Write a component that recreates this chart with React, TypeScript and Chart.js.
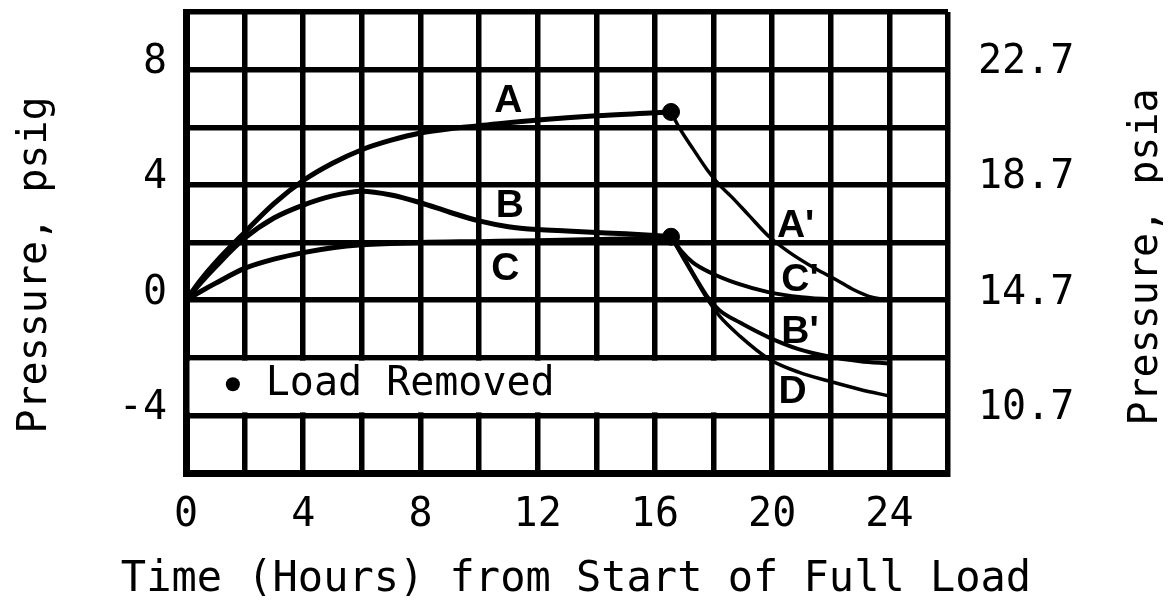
import React, { useEffect, useRef } from "react";
import { Chart, registerables } from "chart.js";

Chart.register(...registerables);

// ---------- data (hours, psig) ----------
const timeA = [0, 0.5, 1, 2, 3, 4, 5, 6, 7, 8, 9, 10, 12, 14, 16, 16.55];
const pressA = [0, 0.7, 1.3, 2.35, 3.35, 4.15, 4.75, 5.22, 5.55, 5.8, 5.95, 6.05, 6.25, 6.4, 6.5, 6.53];

const timeB = [0, 0.5, 1, 2, 3, 4, 5, 6, 7, 8, 9, 10, 11, 12, 13, 14, 15, 16, 16.55];
const pressB = [0, 0.6, 1.15, 2.15, 2.85, 3.3, 3.62, 3.78, 3.65, 3.38, 3.05, 2.75, 2.55, 2.45, 2.4, 2.35, 2.3, 2.24, 2.2];

const timeC = [0, 0.5, 1, 2, 3, 4, 5, 6, 8, 10, 12, 14, 16, 16.55];
const pressC = [0, 0.3, 0.58, 1.1, 1.42, 1.65, 1.82, 1.92, 2.0, 2.03, 2.06, 2.1, 2.16, 2.2];

const timeA2 = [16.55, 16.85, 17.3, 17.8, 18.2, 18.6, 19.2, 19.9, 20.6, 21.5, 22.2, 22.8, 23.4, 24];
const pressA2 = [6.53, 5.95, 5.25, 4.5, 4.0, 3.6, 2.95, 2.2, 1.65, 1.08, 0.7, 0.35, 0.1, 0];

const timeC2 = [16.55, 16.9, 17.3, 17.9, 18.8, 19.9, 21, 22, 24];
const pressC2 = [2.2, 1.7, 1.3, 0.95, 0.58, 0.27, 0.1, 0.03, 0];

const timeB2 = [16.55, 17.0, 17.4, 17.8, 18.2, 18.9, 19.9, 20.9, 21.9, 23, 24];
const pressB2 = [2.2, 1.45, 0.75, 0.1, -0.35, -0.78, -1.3, -1.7, -1.95, -2.12, -2.2];

const timeD = [16.55, 17.0, 17.4, 17.8, 18.2, 18.9, 19.9, 20.9, 21.9, 23, 24];
const pressD = [2.2, 1.4, 0.7, 0.02, -0.55, -1.25, -2.05, -2.5, -2.8, -3.1, -3.33];

const removedTime = [16.55, 16.55];
const removedPress = [6.53, 2.2];

// curve labels (data coordinates)
const curveLabelText = ["A", "B", "C", "A'", "C'", "B'", "D"];
const curveLabelX = [11.0, 11.05, 10.9, 20.8, 20.95, 20.95, 20.7];
const curveLabelY = [6.9, 3.26, 1.08, 2.57, 0.69, -1.11, -3.2];

// axis texts
const xTitle = "Time (Hours) from Start of Full Load";
const yTitle = "Pressure, psig";
const y2Title = "Pressure, psia";
const legendText = "Load Removed";
const ATM = 14.7;

const MONO = '"DejaVu Sans Mono", monospace';

const toPts = (xs: number[], ys: number[]) => xs.map((x, i) => ({ x, y: ys[i] }));

const curve = (label: string, xs: number[], ys: number[], w: number) => ({
  type: "line" as const,
  label,
  data: toPts(xs, ys),
  borderColor: "#000",
  backgroundColor: "#000",
  borderWidth: w,
  pointRadius: 0,
  fill: false,
  cubicInterpolationMode: "monotone" as const,
  borderCapStyle: "round" as const,
  borderJoinStyle: "round" as const,
  xAxisID: "x",
  yAxisID: "y",
});

const decorPlugin = {
  id: "decor",
  beforeDatasetsDraw(chart: any) {
    const { ctx, scales } = chart;
    const xs = scales.x;
    const ys = scales.y;
    ctx.save();
    // blank band for the legend
    const l = xs.getPixelForValue(0) + 3.5;
    const r = xs.getPixelForValue(20) - 3;
    const t = ys.getPixelForValue(-2) + 3;
    const b = ys.getPixelForValue(-4) - 3;
    ctx.fillStyle = "#fff";
    ctx.fillRect(l, t, r - l, b - t);
    // legend
    const ly = ys.getPixelForValue(-2.92);
    ctx.fillStyle = "#000";
    ctx.beginPath();
    ctx.arc(xs.getPixelForValue(1.6), ly, 7, 0, Math.PI * 2);
    ctx.fill();
    ctx.font = `40px ${MONO}`;
    ctx.textAlign = "left";
    ctx.textBaseline = "middle";
    ctx.fillText(legendText, xs.getPixelForValue(2.72), ly);
    ctx.restore();
  },
  afterDatasetsDraw(chart: any) {
    const { ctx, scales } = chart;
    ctx.save();
    ctx.fillStyle = "#000";
    ctx.font = `bold 39px "Liberation Sans", Arial, sans-serif`;
    ctx.textAlign = "center";
    ctx.textBaseline = "middle";
    curveLabelText.forEach((t, i) => {
      ctx.fillText(t, scales.x.getPixelForValue(curveLabelX[i]), scales.y.getPixelForValue(curveLabelY[i]));
    });
    ctx.restore();
  },
  afterDraw(chart: any) {
    const { ctx } = chart;
    ctx.save();
    ctx.fillStyle = "#000";
    ctx.textAlign = "center";
    ctx.textBaseline = "middle";
    ctx.font = `42px ${MONO}`;
    ctx.fillText(xTitle, 568, 572);
    ctx.font = `40px ${MONO}`;
    ctx.translate(28, 257);
    ctx.rotate(-Math.PI / 2);
    ctx.fillText(yTitle, 0, 0);
    ctx.restore();
    ctx.save();
    ctx.fillStyle = "#000";
    ctx.textAlign = "center";
    ctx.textBaseline = "middle";
    ctx.font = `40px ${MONO}`;
    ctx.translate(1139, 249);
    ctx.rotate(-Math.PI / 2);
    ctx.fillText(y2Title, 0, 0);
    ctx.restore();
  },
};

export default function App() {
  const ref = useRef<HTMLCanvasElement>(null);

  useEffect(() => {
    const canvas = ref.current;
    if (!canvas) return;
    const tickFont = { family: MONO, size: 40 };
    const chart = new Chart(canvas, {
      type: "line",
      data: {
        datasets: [
          curve("A", timeA, pressA, 5),
          curve("B", timeB, pressB, 5),
          curve("C", timeC, pressC, 5),
          curve("A'", timeA2, pressA2, 3.5),
          curve("C'", timeC2, pressC2, 4),
          curve("B'", timeB2, pressB2, 4),
          curve("D", timeD, pressD, 3.5),
          {
            type: "scatter",
            label: "Load Removed",
            data: toPts(removedTime, removedPress),
            pointRadius: 8.5,
            pointBackgroundColor: "#000",
            pointBorderColor: "#000",
            showLine: false,
            xAxisID: "x",
            yAxisID: "y",
          } as any,
        ],
      },
      options: {
        animation: false,
        responsive: false,
        events: [],
        layout: { padding: { top: 4, left: 0, right: 0, bottom: 0 }, autoPadding: false },
        plugins: { legend: { display: false }, tooltip: { enabled: false } },
        scales: {
          x: {
            type: "linear",
            position: "bottom",
            min: 0,
            max: 26,
            ticks: {
              stepSize: 2,
              maxTicksLimit: 100,
              autoSkip: false,
              maxRotation: 0,
              minRotation: 0,
              padding: 19,
              color: "#000",
              font: tickFont,
              callback: (v: any) => (Number(v) % 4 === 0 ? String(v) : ""),
            },
            grid: { color: "#000", lineWidth: 5.5, drawTicks: false },
            border: { display: true, color: "#000", width: 7 },
            afterFit: (s: any) => {
              s.height = 130;
              s.paddingLeft = 0;
              s.paddingRight = 0;
            },
          },
          y: {
            type: "linear",
            position: "left",
            min: -6,
            max: 10,
            ticks: {
              stepSize: 2,
              maxTicksLimit: 100,
              autoSkip: false,
              padding: 19,
              labelOffset: -7,
              color: "#000",
              font: tickFont,
              callback: (v: any) => (Number(v) % 4 === 0 ? String(v) : ""),
            },
            grid: { color: "#000", lineWidth: 5.5, drawTicks: false },
            border: { display: true, color: "#000", width: 7 },
            afterFit: (s: any) => {
              s.width = 178;
              s.paddingTop = 0;
              s.paddingBottom = 0;
            },
          },
          y2: {
            type: "linear",
            position: "right",
            min: -6,
            max: 10,
            ticks: {
              stepSize: 2,
              maxTicksLimit: 100,
              autoSkip: false,
              padding: 30,
              labelOffset: -7,
              color: "#000",
              font: tickFont,
              callback: (v: any) => (Number(v) % 4 === 0 ? (Number(v) + ATM).toFixed(1) : ""),
            },
            grid: { display: false, drawOnChartArea: false, drawTicks: false },
            border: { display: false },
            afterFit: (s: any) => {
              s.width = 215;
              s.paddingTop = 0;
              s.paddingBottom = 0;
            },
          },
        },
      } as any,
      plugins: [decorPlugin],
    });
    return () => chart.destroy();
  }, []);

  return (
    <canvas
      ref={ref}
      width={1155}
      height={595}
      style={{ display: "block", width: "1155px", height: "595px" }}
    />
  );
}
